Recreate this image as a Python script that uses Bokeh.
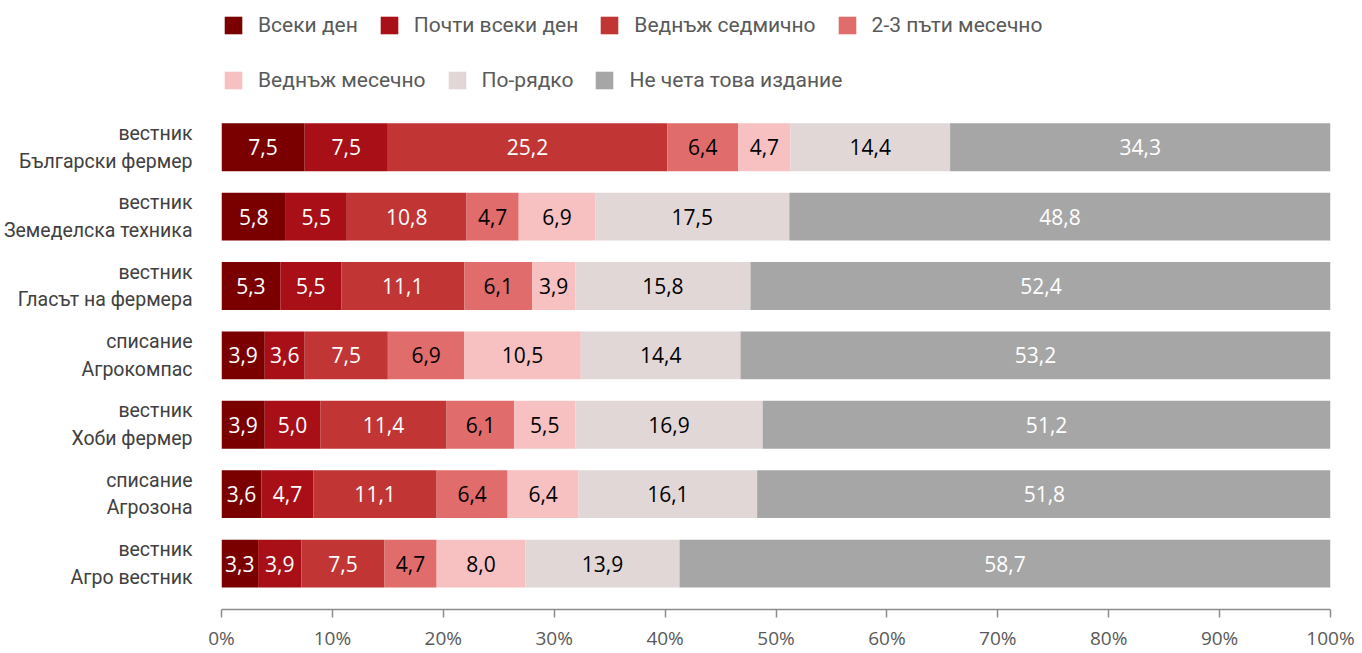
from bokeh.plotting import figure
from bokeh.models import (Range1d, ColumnDataSource, Legend, LegendItem,
                          PrintfTickFormatter, FixedTicker)
from bokeh.core.properties import value
from bokeh.embed import file_html
from bokeh.resources import INLINE

categories = [
    "вестник\nБългарски фермер",
    "вестник\nЗемеделска техника",
    "вестник\nГласът на фермера",
    "списание\nАгрокомпас",
    "вестник\nХоби фермер",
    "списание\nАгрозона",
    "вестник\nАгро вестник",
]
series_names = ["Всеки ден", "Почти всеки ден", "Веднъж седмично", "2-3 пъти месечно",
                "Веднъж месечно", "По-рядко", "Не чета това издание"]
daily = [7.5, 5.8, 5.3, 3.9, 3.9, 3.6, 3.3]
almost_daily = [7.5, 5.5, 5.5, 3.6, 5.0, 4.7, 3.9]
weekly = [25.2, 10.8, 11.1, 7.5, 11.4, 11.1, 7.5]
two_three_monthly = [6.4, 4.7, 6.1, 6.9, 6.1, 6.4, 4.7]
monthly = [4.7, 6.9, 3.9, 10.5, 5.5, 6.4, 8.0]
rarely = [14.4, 17.5, 15.8, 14.4, 16.9, 16.1, 13.9]
never = [34.3, 48.8, 52.4, 53.2, 51.2, 51.8, 58.7]
x_ticks = [0, 10, 20, 30, 40, 50, 60, 70, 80, 90, 100]

colors = ["#7A0000", "#A80F17", "#C23535", "#E06C6C", "#F7C1C1", "#E1D7D7", "#A6A6A6"]
label_colors = ["white", "white", "white", "black", "black", "black", "white"]

series = [daily, almost_daily, weekly, two_three_monthly, monthly, rarely, never]
keys = ["s%d" % i for i in range(len(series))]

# category position: first category on top
n = len(categories)
ypos = [n - 1 - i for i in range(n)]

data = {"y": ypos}
for k, s in zip(keys, series):
    data[k] = s
source = ColumnDataSource(data)

# label positions (segment midpoints)
lx, ly, lt, lc = [], [], [], []
for i in range(n):
    cum = 0.0
    for j, s in enumerate(series):
        v = s[i]
        lx.append(cum + v / 2)
        ly.append(ypos[i])
        lt.append(("%.1f" % v).replace(".", ","))
        lc.append(label_colors[j])
        cum += v
lsrc = ColumnDataSource(dict(x=lx, y=ly, text=lt, color=lc))

cond_font = "Roboto"

p = figure(width=1362, height=653,
           y_range=Range1d(-0.662, n - 1 + 2.115),
           x_range=Range1d(0, 100),
           output_backend="svg", toolbar_location=None,
           min_border_left=221, min_border_right=32, min_border_top=0, min_border_bottom=43)
p.outline_line_color = None
p.xgrid.grid_line_color = None
p.ygrid.grid_line_color = None

renderers = p.hbar_stack(keys, y="y", height=0.69, fill_color=colors, line_color=None,
                         source=source)

p.text(x="x", y="y", text="text", text_color="color", source=lsrc,
       text_align="center", text_baseline="middle",
       text_font=value("Open Sans"), text_font_size="21px")

# x axis
p.xaxis.ticker = FixedTicker(ticks=x_ticks)
p.xaxis.formatter = PrintfTickFormatter(format="%d%%")
p.xaxis.axis_line_color = "#8C8C8C"
p.xaxis.axis_line_width = 1.5
p.xaxis.major_tick_line_color = "#8C8C8C"
p.xaxis.major_tick_line_width = 1.5
p.xaxis.major_tick_in = 0
p.xaxis.major_tick_out = 8
p.xaxis.minor_tick_line_color = None
p.xaxis.major_label_standoff = 7
p.xaxis.major_label_text_font = "Open Sans"
p.xaxis.major_label_text_font_size = "19px"
p.xaxis.major_label_text_color = "#595959"

# y axis
p.yaxis.ticker = FixedTicker(ticks=ypos)
p.yaxis.major_label_overrides = {yp: c for yp, c in zip(ypos, categories)}
p.yaxis.axis_line_color = None
p.yaxis.major_tick_line_color = None
p.yaxis.minor_tick_line_color = None
p.yaxis.major_label_standoff = 23
p.yaxis.major_label_text_font = cond_font
p.yaxis.major_label_text_font_size = "19.5px"
p.yaxis.major_label_text_color = "#404040"

common = dict(orientation="horizontal", padding=0, margin=0, spacing=20,
              glyph_width=22, glyph_height=22, label_height=22, label_standoff=14,
              label_text_font=cond_font, label_text_font_size="21px",
              label_text_color="#595959", border_line_color=None,
              background_fill_alpha=0)
leg1 = Legend(items=[LegendItem(label=series_names[i], renderers=[renderers[i]]) for i in range(4)],
              location=(1, 572), **common)
leg2 = Legend(items=[LegendItem(label=series_names[i], renderers=[renderers[i]]) for i in range(4, 7)],
              location=(1, 517), **common)
p.add_layout(leg1)
p.add_layout(leg2)

open("out.html", "w").write(file_html(p, INLINE))
